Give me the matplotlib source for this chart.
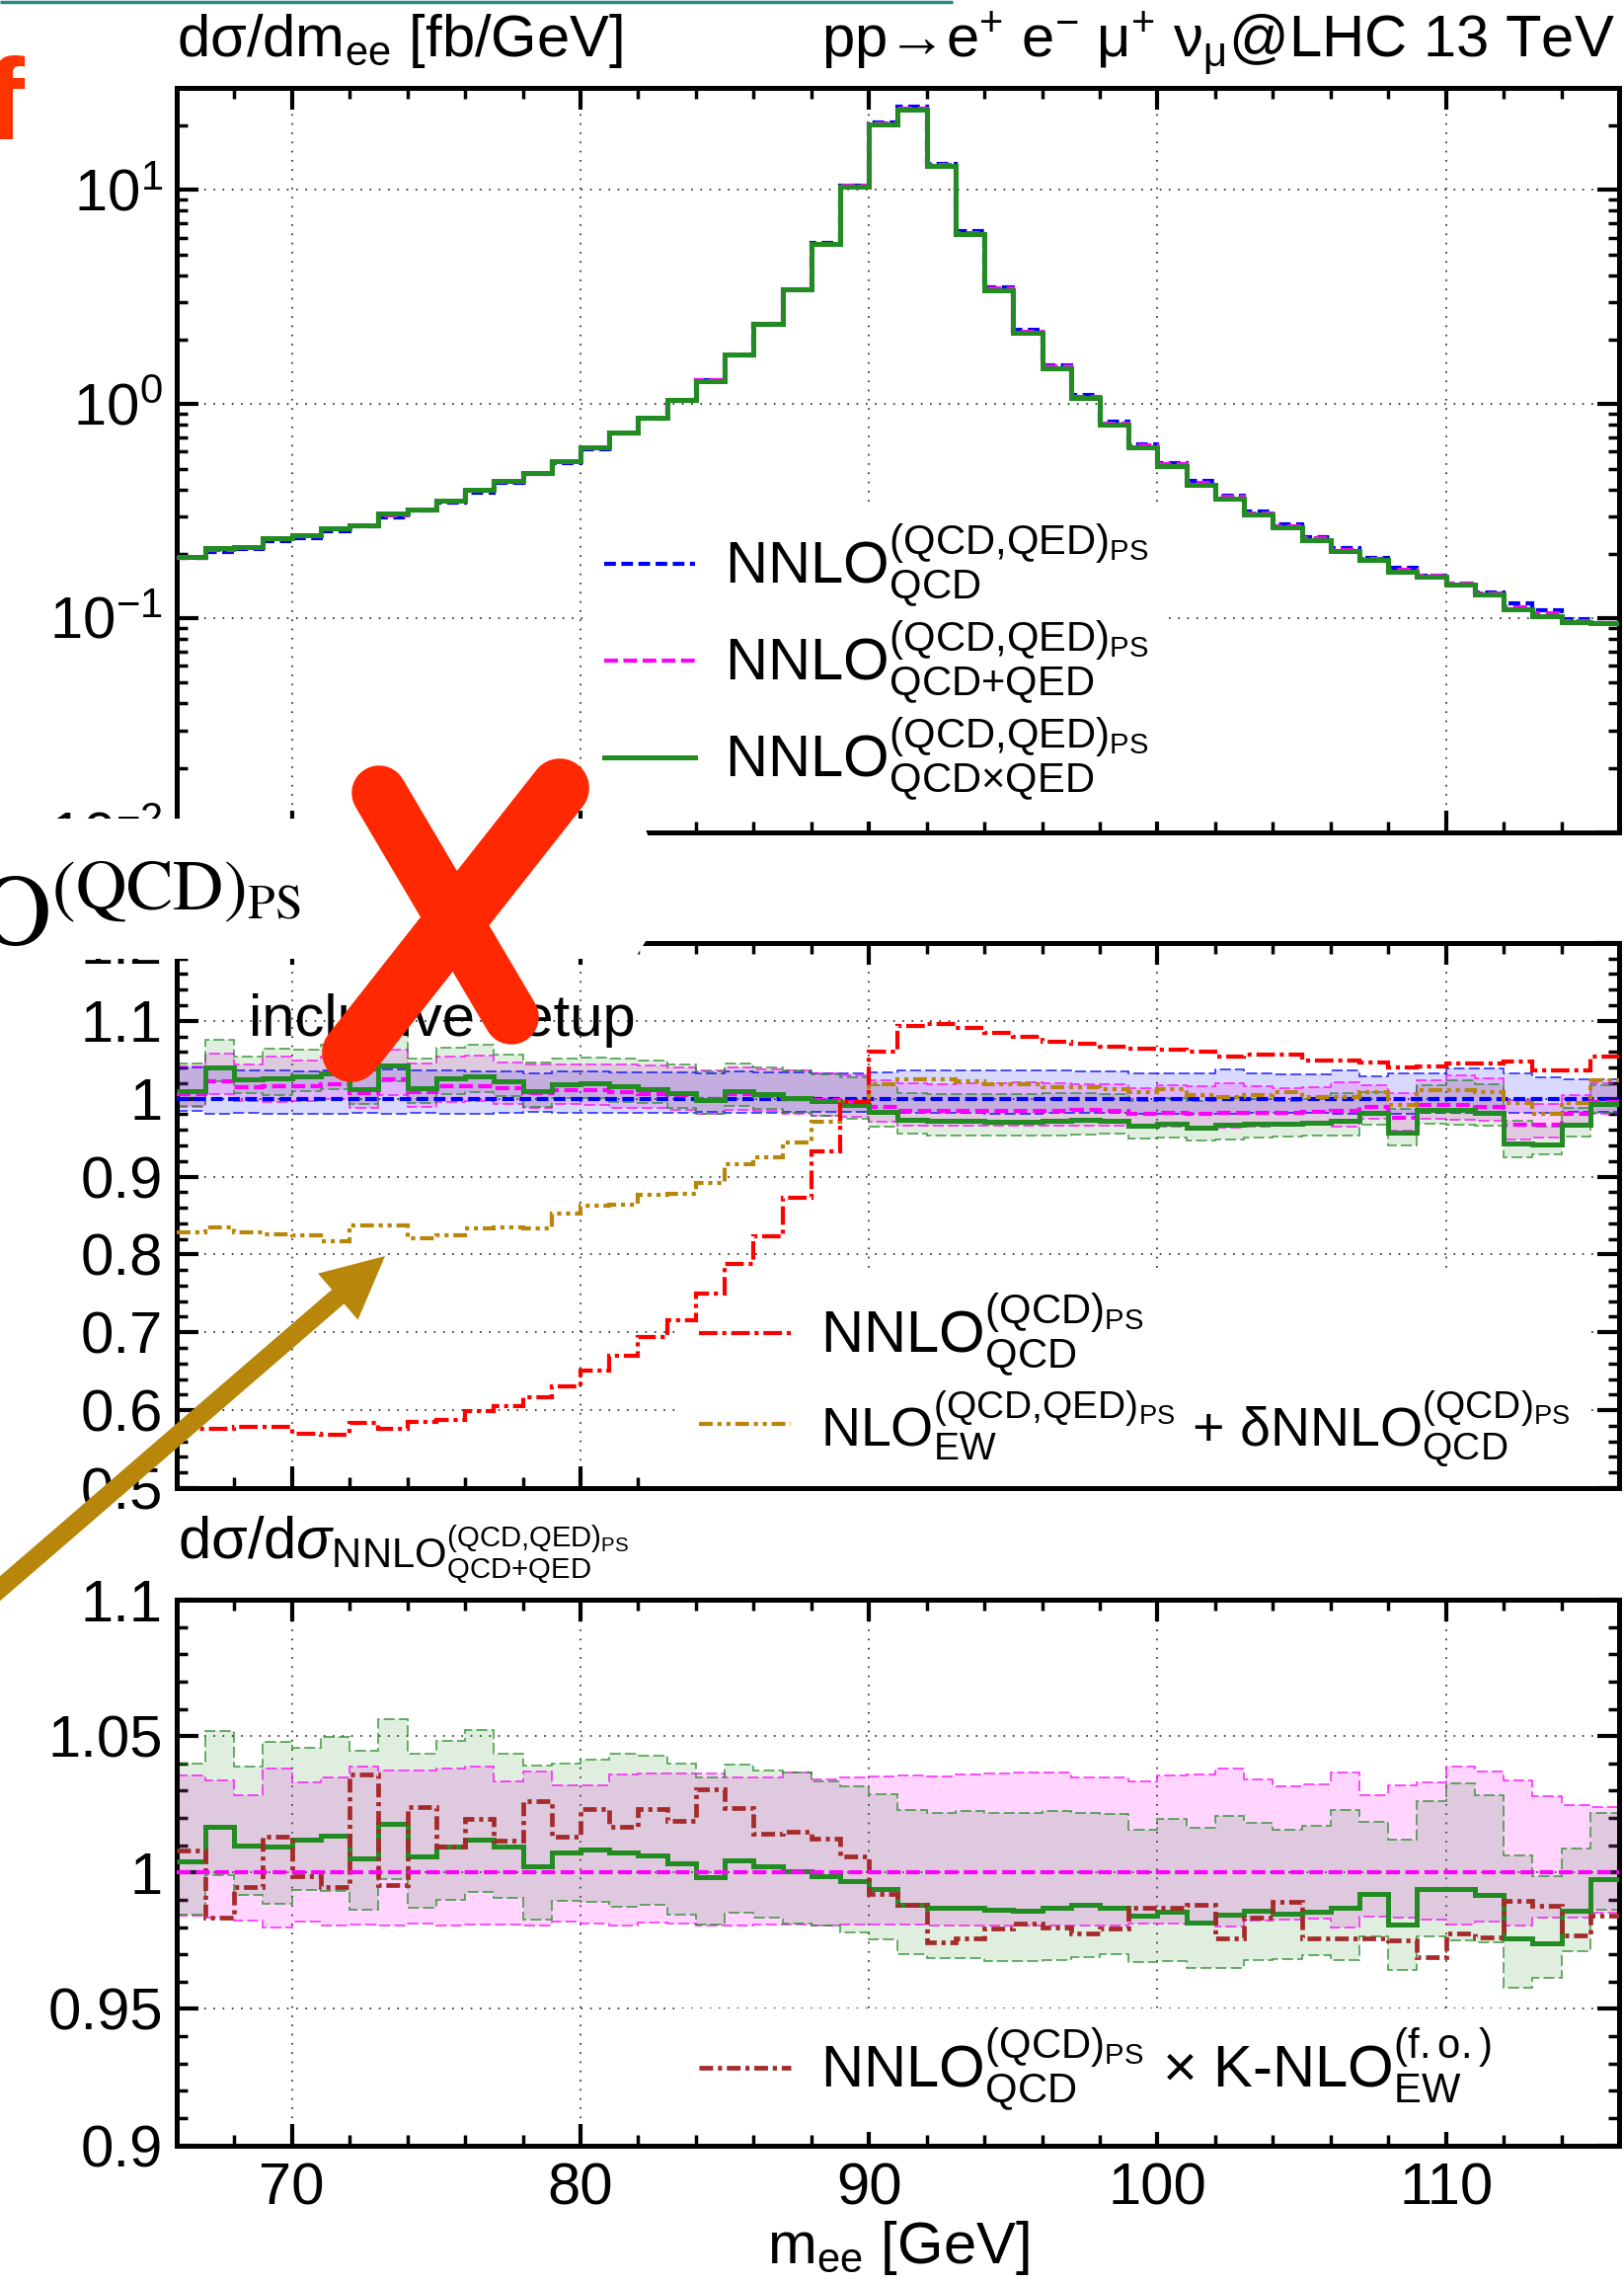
import numpy as np
import matplotlib
matplotlib.use("Agg")
import matplotlib.pyplot as plt
from matplotlib.lines import Line2D
from matplotlib.patches import Polygon, FancyArrow
from matplotlib.ticker import MultipleLocator, FormatStrFormatter, LogLocator, NullFormatter

plt.rcParams["font.family"] = ["Liberation Sans", "DejaVu Sans"]
plt.rcParams["mathtext.fontset"] = "custom"
plt.rcParams["mathtext.rm"] = "Liberation Sans"
plt.rcParams["mathtext.it"] = "Liberation Sans:italic"
plt.rcParams["mathtext.bf"] = "Liberation Sans:bold"
plt.rcParams["mathtext.sf"] = "Liberation Sans"
plt.rcParams["lines.scale_dashes"] = False

# m_ee bins, 1 GeV wide
edges = np.arange(66, 117)

# dsigma/dm_ee [fb/GeV], NNLO QCD with (QCD,QED) shower
dsig_nnlo_qcd = [0.191, 0.204, 0.210, 0.230, 0.238, 0.256, 0.269, 0.295, 0.318, 0.347,
                 0.387, 0.427, 0.471, 0.533, 0.617, 0.726, 0.855, 1.04, 1.29, 1.69,
                 2.36, 3.43, 5.64, 10.5, 20.7, 24.4, 13.3, 6.40, 3.52, 2.22,
                 1.52, 1.10, 0.827, 0.652, 0.533, 0.436, 0.375, 0.315, 0.275, 0.240,
                 0.212, 0.191, 0.172, 0.159, 0.146, 0.132, 0.117, 0.109, 0.0991, 0.0955]

# ratios to NNLO_QCD (middle panel)
r_qcdqed = [1.0055, 1.023, 1.015, 1.016, 1.016, 1.019, 1.007, 1.025, 1.008, 1.016,
            1.016, 1.013, 1.007, 1.011, 1.011, 1.008, 1.006, 1.004, 1.000, 1.0055,
            1.003, 1.000, 0.998, 0.9955, 0.989, 0.9844, 0.984, 0.984, 0.984, 0.9844,
            0.9844, 0.985, 0.9844, 0.981, 0.982, 0.981, 0.982, 0.982, 0.982, 0.983,
            0.9844, 0.9895, 0.9755, 0.9916, 0.9916, 0.990, 0.966, 0.966, 0.980, 0.9958]
r_qcd_hi = [1.040, 1.037, 1.036, 1.036, 1.035, 1.036, 1.036, 1.037, 1.036, 1.036,
            1.035, 1.035, 1.033, 1.035, 1.035, 1.034, 1.034, 1.034, 1.033, 1.035,
            1.034, 1.034, 1.033, 1.033, 1.034, 1.036, 1.036, 1.036, 1.036, 1.036,
            1.036, 1.035, 1.035, 1.033, 1.033, 1.033, 1.037, 1.033, 1.031, 1.031,
            1.036, 1.029, 1.032, 1.032, 1.039, 1.039, 1.033, 1.027, 1.0245, 1.0245]
r_qcd_lo = [0.984, 0.981, 0.982, 0.981, 0.981, 0.981, 0.982, 0.981, 0.982, 0.981,
            0.981, 0.982, 0.983, 0.982, 0.982, 0.982, 0.982, 0.982, 0.983, 0.982,
            0.982, 0.983, 0.983, 0.983, 0.982, 0.982, 0.982, 0.982, 0.981, 0.981,
            0.982, 0.982, 0.982, 0.981, 0.981, 0.981, 0.980, 0.982, 0.982, 0.982,
            0.981, 0.982, 0.981, 0.982, 0.982, 0.983, 0.982, 0.982, 0.983, 0.983]
r_qcd_ps = [0.576, 0.576, 0.578, 0.579, 0.570, 0.568, 0.584, 0.576, 0.585, 0.587,
            0.599, 0.605, 0.617, 0.631, 0.651, 0.670, 0.694, 0.715, 0.750, 0.788,
            0.823, 0.873, 0.932, 0.996, 1.061, 1.093, 1.096, 1.091, 1.084, 1.080,
            1.073, 1.071, 1.067, 1.064, 1.063, 1.060, 1.054, 1.057, 1.056, 1.049,
            1.049, 1.047, 1.040, 1.042, 1.045, 1.045, 1.048, 1.036, 1.036, 1.054]
r_nlo_ew = [0.828, 0.835, 0.829, 0.826, 0.825, 0.817, 0.837, 0.837, 0.821, 0.824,
            0.833, 0.835, 0.834, 0.852, 0.862, 0.864, 0.876, 0.878, 0.892, 0.916,
            0.925, 0.944, 0.970, 0.996, 1.019, 1.025, 1.025, 1.023, 1.019, 1.018,
            1.015, 1.015, 1.012, 1.008, 1.012, 1.004, 1.002, 1.004, 1.008, 1.002,
            1.002, 1.008, 0.992, 1.011, 1.011, 1.008, 0.994, 0.981, 0.995, 1.024]

# ratios to NNLO_QCD+QED (bottom panel)
b_qcdxqed = [1.0042, 1.0169, 1.0100, 1.0094, 1.0121, 1.0136, 1.0052, 1.0178, 1.0060, 1.0094,
             1.0122, 1.0094, 1.0022, 1.0072, 1.0084, 1.0075, 1.0064, 1.0034, 0.9982, 1.0046,
             1.0024, 1.0004, 0.9988, 0.9967, 0.9940, 0.988, 0.987, 0.987, 0.9865, 0.986,
             0.987, 0.988, 0.987, 0.984, 0.9855, 0.9817, 0.9847, 0.986, 0.985, 0.9855,
             0.987, 0.992, 0.981, 0.994, 0.994, 0.9917, 0.976, 0.974, 0.986, 0.9976]
b_qcdxqed_hi = [1.0401, 1.0518, 1.0389, 1.0480, 1.0458, 1.0498, 1.0447, 1.0562, 1.0435, 1.0483,
                1.0522, 1.0435, 1.0392, 1.0399, 1.0412, 1.0437, 1.0429, 1.0398, 1.0347, 1.0395,
                1.0374, 1.0366, 1.0333, 1.0315, 1.0287, 1.023, 1.0218, 1.0224, 1.022, 1.0217,
                1.0227, 1.022, 1.0214, 1.0158, 1.0196, 1.0163, 1.0207, 1.0182, 1.0158, 1.0172,
                1.0229, 1.0187, 1.012, 1.0263, 1.0327, 1.0283, 1.0064, 0.9986, 1.0088, 1.0217]
b_qcdxqed_lo = [0.9847, 0.9992, 0.9919, 0.9887, 0.9937, 0.9931, 0.9865, 0.9976, 0.9870, 0.9899,
                0.9928, 0.9907, 0.9829, 0.9895, 0.9894, 0.9873, 0.9880, 0.9845, 0.9811, 0.9851,
                0.9835, 0.9813, 0.9805, 0.9781, 0.9754, 0.9699, 0.9687, 0.9687, 0.9676, 0.9676,
                0.968, 0.969, 0.970, 0.967, 0.9675, 0.965, 0.965, 0.968, 0.9684, 0.9696,
                0.9678, 0.9765, 0.9642, 0.9766, 0.975, 0.9745, 0.9576, 0.9614, 0.9711, 0.9863]
b_qcdqed_hi = [1.0357, 1.0337, 1.0284, 1.0380, 1.0329, 1.0349, 1.0387, 1.0375, 1.0374, 1.0380,
               1.0389, 1.0333, 1.0369, 1.0321, 1.0321, 1.0359, 1.0362, 1.0364, 1.0362, 1.0347,
               1.0347, 1.0366, 1.0343, 1.0349, 1.0353, 1.0357, 1.0353, 1.036, 1.0363, 1.0368,
               1.0366, 1.0347, 1.035, 1.0335, 1.0355, 1.036, 1.038, 1.0343, 1.0316, 1.0325,
               1.0368, 1.0284, 1.032, 1.0329, 1.039, 1.0371, 1.0337, 1.028, 1.0247, 1.024]
b_qcdqed_lo = [0.9841, 0.9835, 0.9823, 0.9799, 0.9819, 0.9805, 0.9811, 0.9805, 0.9813, 0.9805,
               0.9810, 0.9810, 0.9807, 0.9819, 0.9814, 0.9805, 0.9817, 0.9814, 0.9807, 0.9807,
               0.9810, 0.9811, 0.9805, 0.9811, 0.9811, 0.9810, 0.9807, 0.9805, 0.9805, 0.9807,
               0.9807, 0.9805, 0.9807, 0.9814, 0.9814, 0.9813, 0.9801, 0.9823, 0.9826, 0.9831,
               0.9799, 0.9839, 0.9835, 0.9826, 0.9810, 0.9819, 0.9807, 0.9835, 0.9835, 0.9853]
b_kfac = [1.0082, 0.9835, 0.9947, 1.0133, 0.9988, 0.9947, 1.0359, 0.9955, 1.0241, 1.0094,
          1.0196, 1.0118, 1.0260, 1.0130, 1.0233, 1.0169, 1.0233, 1.0188, 1.0305, 1.0235,
          1.0142, 1.0151, 1.0124, 1.0058, 0.9923, 0.9883, 0.9745, 0.9757, 0.9793, 0.9813,
          0.9799, 0.9778, 0.9795, 0.9871, 0.9871, 0.9883, 0.9759, 0.9835, 0.9892, 0.9759,
          0.9760, 0.9757, 0.9750, 0.9690, 0.9777, 0.9763, 0.9895, 0.9877, 0.9769, 0.9841]

BLUE = "#0000ff"
MAG = "#ff00ff"
GREEN = "#228b22"
RED = "#ff0000"
GOLD = "#b8860b"
BROWN = "#a52a2a"
FS = 43

st_blue = dict(color=BLUE, lw=3.0, ls=(0, (8.5, 4)))
st_mag = dict(color=MAG, lw=3.0, ls=(0, (10, 4)))
st_green = dict(color=GREEN, lw=3.6, ls="-")
st_red = dict(color=RED, lw=3.0, ls=(0, (13.5, 3.5, 3, 3.5)))
st_gold = dict(color=GOLD, lw=3.0, ls=(0, (10, 3.5, 3, 3.5, 3, 3.5)))
st_brown = dict(color=BROWN, lw=3.4, ls=(0, (10, 3.5, 3, 3.5)))

a = np.array
dsig_qcd = a(dsig_nnlo_qcd)
dsig_qcdqed = dsig_qcd * a(r_qcdqed)
dsig_qcdxqed = dsig_qcdqed * a(b_qcdxqed)

SHOWER = r"^{\mathrm{(QCD{,}QED)}_{\mathrm{PS}}}"
SHOWER_QCD = r"^{\mathrm{(QCD)}_{\mathrm{PS}}}"


def style_axes(ax):
    ax.set_xlim(66, 116)
    ax.xaxis.set_major_locator(MultipleLocator(10))
    ax.xaxis.set_minor_locator(MultipleLocator(2))
    ax.tick_params(which="both", direction="in", top=True, right=True, labelsize=FS)
    ax.tick_params(which="major", length=16, width=3)
    ax.tick_params(which="minor", length=8, width=2.5)
    ax.tick_params(axis="y", pad=10)
    ax.tick_params(axis="x", pad=12)
    for s in ax.spines.values():
        s.set_linewidth(3.6)
    ax.grid(True, which="major", color="#333333", lw=1.3, ls=(0, (1.2, 5.5)))
    ax.set_axisbelow(True)


def curve(ax, values, style):
    ax.stairs(values, edges, baseline=None, zorder=3, **style)


def band(ax, lo, hi, color, alpha):
    ax.stairs(hi, edges, baseline=lo, fill=True, facecolor=color, alpha=alpha, lw=0, zorder=1.7)
    for edge in (hi, lo):
        ax.stairs(edge, edges, baseline=None, color=color, lw=1.2, ls=(0, (8, 3)),
                  alpha=0.8, zorder=1.8)


def legend(ax, handles, labels, anchor):
    leg = ax.legend(handles, labels, loc="upper left", bbox_to_anchor=anchor,
                    fontsize=FS, handlelength=1.55, handletextpad=0.5,
                    labelspacing=0.15, borderpad=0.3, borderaxespad=0,
                    frameon=True, fancybox=False, framealpha=1)
    leg.get_frame().set_edgecolor("none")
    leg.get_frame().set_facecolor("white")
    # white box hides the grid only, curves and spines stay on top
    leg.set_zorder(1.5)
    return leg


fig = plt.figure(figsize=(16.45, 23.11), dpi=100)
L, W = 0.1087, 0.8883
ax_top = fig.add_axes([L, 0.6352, W, 0.3263])
ax_mid = fig.add_axes([L, 0.3479, W, 0.2389])
ax_bot = fig.add_axes([L, 0.0599, W, 0.2391])

# --- top: differential cross section ---
curve(ax_top, dsig_qcd, st_blue)
curve(ax_top, dsig_qcdqed, st_mag)
curve(ax_top, dsig_qcdxqed, st_green)
ax_top.set_yscale("log")
ax_top.set_ylim(0.01, 30)
ax_top.set_yticks([0.01, 0.1, 1, 10])
ax_top.yaxis.set_minor_locator(LogLocator(base=10, subs=np.arange(2, 10), numticks=20))
ax_top.yaxis.set_minor_formatter(NullFormatter())
style_axes(ax_top)
ax_top.tick_params(axis="x", labelbottom=False)

top_labels = [r"NNLO$" + SHOWER + r"_{\mathrm{QCD}}$",
              r"NNLO$" + SHOWER + r"_{\mathrm{QCD{+}QED}}$",
              r"NNLO$" + SHOWER + r"_{\mathrm{QCD{\times}QED}}$"]
legend(ax_top, [Line2D([], [], **st_blue), Line2D([], [], **st_mag), Line2D([], [], **st_green)],
       top_labels, (0.284, 0.44))

fig.text(0.1088, 0.9753, r"dσ/dm$_{\mathrm{ee}}$ [fb/GeV]", fontsize=FS, va="baseline")
fig.text(0.9945, 0.9753, r"pp→e$^{+}$ e$^{-}$ μ$^{+}$ ν$_{\mathrm{μ}}$@LHC 13 TeV",
         fontsize=FS, va="baseline", ha="right")

# --- middle: ratio to NNLO_QCD ---
ones = dsig_qcd / dsig_qcd
band(ax_mid, a(r_qcd_lo), a(r_qcd_hi), BLUE, 0.15)
band(ax_mid, a(r_qcdqed) * a(b_qcdqed_lo), a(r_qcdqed) * a(b_qcdqed_hi), MAG, 0.17)
band(ax_mid, a(r_qcdqed) * a(b_qcdxqed_lo), a(r_qcdqed) * a(b_qcdxqed_hi), GREEN, 0.14)
curve(ax_mid, ones, st_blue)
curve(ax_mid, r_qcdqed, st_mag)
curve(ax_mid, a(r_qcdqed) * a(b_qcdxqed), st_green)
curve(ax_mid, r_nlo_ew, st_gold)
curve(ax_mid, r_qcd_ps, st_red)
ax_mid.set_ylim(0.5, 1.2)
ax_mid.yaxis.set_major_locator(MultipleLocator(0.1))
ax_mid.yaxis.set_minor_locator(MultipleLocator(0.02))
ax_mid.yaxis.set_major_formatter(FormatStrFormatter("%g"))
style_axes(ax_mid)
ax_mid.tick_params(axis="x", labelbottom=False)
ax_mid.text(68.5, 1.0806, "inclusive setup", fontsize=FS, va="baseline")
leg_mid = legend(ax_mid, [Line2D([], [], **st_red), Line2D([], [], **st_gold)],
                 [r"NNLO$" + SHOWER_QCD + r"_{\mathrm{QCD}}$",
                  r"NLO$" + SHOWER + r"_{\mathrm{EW}}$ + δNNLO$" + SHOWER_QCD + r"_{\mathrm{QCD}}$"],
                 (0.350, 0.393))
leg_mid.get_texts()[1].set_fontsize(40)

# --- bottom: ratio to NNLO_QCD+QED ---
band(ax_bot, a(b_qcdqed_lo), a(b_qcdqed_hi), MAG, 0.17)
band(ax_bot, a(b_qcdxqed_lo), a(b_qcdxqed_hi), GREEN, 0.14)
curve(ax_bot, b_qcdxqed, st_green)
curve(ax_bot, b_kfac, st_brown)
curve(ax_bot, dsig_qcdqed / dsig_qcdqed, st_mag)
ax_bot.set_ylim(0.9, 1.1)
ax_bot.yaxis.set_major_locator(MultipleLocator(0.05))
ax_bot.yaxis.set_minor_locator(MultipleLocator(0.01))
ax_bot.yaxis.set_major_formatter(FormatStrFormatter("%g"))
style_axes(ax_bot)
ax_bot.set_xlabel(r"m$_{\mathrm{ee}}$ [GeV]", fontsize=FS, labelpad=2)
legend(ax_bot, [Line2D([], [], **st_brown)],
       [r"NNLO$" + SHOWER_QCD + r"_{\mathrm{QCD}}$ × K-NLO$^{\mathrm{(f.o.)}}_{\mathrm{EW}}$"],
       (0.350, 0.2507))
fig.text(0.1094, 0.3172,
         r"dσ/d$\sigma_{\mathrm{NNLO}" + SHOWER + r"_{\mathrm{QCD{+}QED}}}$",
         fontsize=FS, va="baseline")

# --- annotations on top of the figure, in pixel units ---
ov = fig.add_axes([0, 0, 1, 1], zorder=20)
ov.set_xlim(0, 1645)
ov.set_ylim(2311, 0)
ov.axis("off")
ov.plot([0, 965], [1.5, 1.5], color="#2b8a8a", lw=2.5, solid_capstyle="butt")
ov.text(-14, 140, "f", fontsize=84, fontweight="bold", color="#ff3300", va="baseline")
ov.add_patch(Polygon([(-5, 829), (649, 829), (656, 845), (656, 950), (643, 971), (-5, 971)],
                     closed=True, facecolor="white", edgecolor="none"))
ov.text(-22, 957, r"$\mathrm{O}^{(\mathrm{QCD})_{\mathrm{PS}}}$", fontsize=73,
        math_fontfamily="stix", va="baseline")
ov.plot([567, 356], [798, 1066], color="#ff2800", lw=43, solid_capstyle="round")
ov.plot([384, 518], [803, 1030], color="#ff2800", lw=40, solid_capstyle="round")
ov.add_patch(FancyArrow(-20, 1626, 410, -354, width=19, head_width=62, head_length=63,
                        length_includes_head=True, color=GOLD, lw=0))

fig.savefig("out.png", dpi=100)
